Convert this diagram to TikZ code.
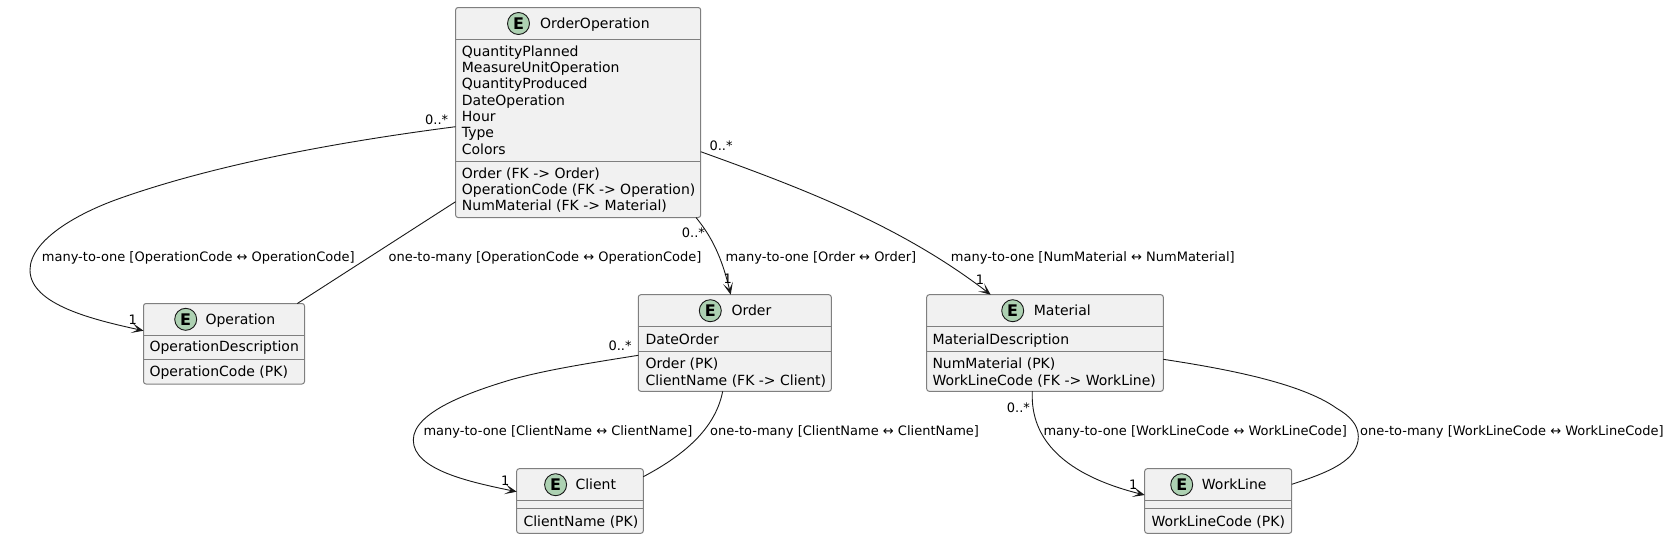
\documentclass[tikz,border=0pt]{standalone}
\usepackage{fontspec}
\setmainfont{DejaVu Sans}
\usetikzlibrary{arrows.meta,calc}
\definecolor{boxfill}{HTML}{F1F1F1}
\definecolor{ink}{HTML}{181818}
\definecolor{edgegray}{HTML}{7F7F7F}
\definecolor{circ}{HTML}{ADD1B2}
\newcommand{\entbox}[7]{% name L T R B hdr div
  \pgfmathsetmacro{\bw}{#4-#2}\pgfmathsetmacro{\bh}{#5-#3}
  \pgfmathsetmacro{\bx}{(#2+#4)/2}\pgfmathsetmacro{\by}{(#3+#5)/2}
  \node[entity,minimum width=\bw pt,minimum height=\bh pt] (#1) at (\bx,\by) {};
  \draw[divider] ($(#1.north west)+(0,#6-#3)$) -- ($(#1.north east)+(0,#6-#3)$);
  \draw[divider] ($(#1.north west)+(0,#7-#3)$) -- ($(#1.north east)+(0,#7-#3)$);
}
\newcommand{\enthead}[5]{% name circle-x y title-x title
  \node[spot] (#1spot) at (#2,#3) {E};
  \node[title,anchor=base west] (#1title) at (#4,#3+5) {#5};
}
\tikzset{
  entity/.style={draw=edgegray,fill=boxfill,line width=1pt,rounded corners=2.5pt,inner sep=0pt,outer sep=0pt},
  divider/.style={draw=edgegray,line width=1pt},
  spot/.style={circle,draw=ink,fill=circ,line width=.9pt,minimum size=22pt,inner sep=0pt,font=\fontsize{16}{18}\selectfont\bfseries},
  title/.style={inner sep=0pt,font=\fontsize{14}{16}\selectfont,text=black},
  attr/.style={inner sep=0pt,anchor=base west,font=\fontsize{14}{16}\selectfont,text=black},
  lab/.style={inner sep=0pt,anchor=base west,font=\fontsize{13}{15}\selectfont,text=black},
  link/.style={draw=ink,line width=.9pt},
  arrowlink/.style={link,-{Stealth[length=12pt,width=10pt,inset=6.5pt,fill=ink]}},
}
\begin{document}
\begin{tikzpicture}[x=1pt,y=-1pt]
\useasboundingbox (0,0) rectangle (1670,539);
% boxes
\entbox{oo}{455.6}{7.5}{700.7}{217.5}{39.5}{161.5}
\enthead{oo}{518.5}{23.5}{540}{OrderOperation}
\node[attr] (oo1) at (461.7,56) {QuantityPlanned};
\node[attr] (oo2) at (461.7,72.3) {MeasureUnitOperation};
\node[attr] (oo3) at (461.7,88.7) {QuantityProduced};
\node[attr] (oo4) at (461.7,105) {DateOperation};
\node[attr] (oo5) at (461.7,121.3) {Hour};
\node[attr] (oo6) at (461.7,137.7) {Type};
\node[attr] (oo7) at (461.7,154) {Colors};
\node[attr] (oo8) at (461.7,178.3) {Order (FK -> Order)};
\node[attr] (oo9) at (461.7,194.5) {OperationCode (FK -> Operation)};
\node[attr] (oo10) at (461.7,210.8) {NumMaterial (FK -> Material)};

\entbox{op}{143.5}{303.5}{304.5}{384}{335.5}{359.5}
\enthead{op}{185.7}{319.3}{205.3}{Operation}
\node[attr] (op1) at (149.3,351.7) {OperationDescription};
\node[attr] (op2) at (149.3,376) {OperationCode (PK)};

\entbox{or}{638.3}{294.7}{831.3}{391.3}{326.7}{351.3}
\enthead{or}{710.3}{310.7}{731.3}{Order}
\node[attr] (or1) at (645.3,344) {DateOrder};
\node[attr] (or2) at (645.3,368.3) {Order (PK)};
\node[attr] (or3) at (645.3,385) {ClientName (FK -> Client)};

\entbox{ma}{926.7}{294.7}{1163.3}{391.3}{326.7}{351.3}
\enthead{ma}{1012.7}{310.7}{1033.7}{Material}
\node[attr] (ma1) at (932.3,344) {MaterialDescription};
\node[attr] (ma2) at (932.3,368.3) {NumMaterial (PK)};
\node[attr] (ma3) at (932.3,385) {WorkLineCode (FK -> WorkLine)};

\entbox{cl}{516.7}{468.7}{643.3}{533.3}{500.3}{508.3}
\enthead{cl}{555.6}{484.7}{575.3}{Client}
\node[attr] (cl1) at (523.3,526) {ClientName (PK)};

\entbox{wl}{1144.7}{468.7}{1291.7}{533.3}{500.3}{508.3}
\enthead{wl}{1181.7}{484.7}{1201.7}{WorkLine}
\node[attr] (wl1) at (1151.3,526) {WorkLineCode (PK)};

% connectors
\draw[arrowlink] ($(oo.north west)+(0,119.2)$) .. controls (345,141) and (220,163) .. (120,198.3)
  .. controls (78,213) and (30,240) .. (30,270)
  .. controls (30,305) and (95,320) .. ($(op.north west)+(0,27.2)$);
\draw[link] ($(oo.north west)+(0,194.2)$) -- ($(op.north west)+(153.8,0)$);
\draw[arrowlink] ($(oo.south east)+(-4.7,0)$) .. controls (712,237) and (722,258) .. ($(or.north west)+(92.4,0)$);
\draw[arrowlink] ($(oo.north east)+(0,144.2)$) .. controls (800,187.5) and (900,225) .. ($(ma.north west)+(64,0)$);
\draw[arrowlink] ($(or.north west)+(0,60.6)$) .. controls (590,363) and (545,370) .. (510,380)
  .. controls (470,392) and (413.3,412) .. (413.3,440)
  .. controls (413.3,470) and (470,482) .. ($(cl.north west)+(0,23)$);
\draw[link] ($(or.south west)+(84.4,0)$) .. controls (716,425) and (690,452) .. ($(cl.north east)+(0,8)$);
\draw[arrowlink] ($(ma.south west)+(105.6,0)$) .. controls (1030,440) and (1065,475) .. ($(wl.north west)+(0,26.3)$);
\draw[link] ($(ma.north east)+(0,64.6)$) .. controls (1220,368) and (1300,382) .. (1336.7,408.3)
  .. controls (1350,416) and (1358.3,425) .. (1358.3,436.7)
  .. controls (1358.3,460) and (1330,472) .. ($(wl.north east)+(0,15.6)$);

% edge labels
\node[lab] (l1) at (41.7,261) {many-to-one [OperationCode ↔ OperationCode]};
\node[lab] (l2) at (388.4,261) {one-to-many [OperationCode ↔ OperationCode]};
\node[lab] (l3) at (725.3,261) {many-to-one [Order ↔ Order]};
\node[lab] (l4) at (950.7,261) {many-to-one [NumMaterial ↔ NumMaterial]};
\node[lab] (l5) at (423.3,435) {many-to-one [ClientName ↔ ClientName]};
\node[lab] (l6) at (710,435) {one-to-many [ClientName ↔ ClientName]};
\node[lab] (l7) at (1043.3,435) {many-to-one [WorkLineCode ↔ WorkLineCode]};
\node[lab] (l8) at (1360,435) {one-to-many [WorkLineCode ↔ WorkLineCode]};
% multiplicities
\node[lab] (m1) at (425,124) {0..*};
\node[lab] (m2) at (128.3,324) {1};
\node[lab] (m3) at (681.7,237.7) {0..*};
\node[lab] (m4) at (723.3,283.5) {1};
\node[lab] (m5) at (709.3,150) {0..*};
\node[lab] (m6) at (975.7,284) {1};
\node[lab] (m7) at (608.3,350) {0..*};
\node[lab] (m8) at (501,485.7) {1};
\node[lab] (m9) at (1006.7,412.3) {0..*};
\node[lab] (m10) at (1129,489.3) {1};
\end{tikzpicture}
\end{document}
